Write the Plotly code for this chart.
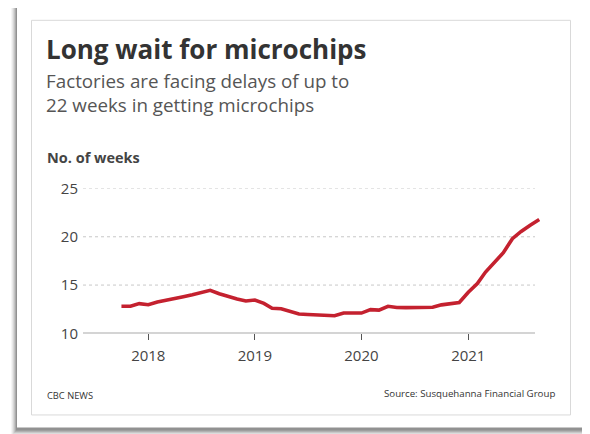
import plotly.graph_objects as go
import pandas as pd

# ---- data ----
start_month = "2017-10-01"
weeks = [12.8, 12.8, 13.08, 12.97, 13.25, 13.4, 13.6, 13.8, 14.0, 14.25, 14.45, 14.1,
         13.8, 13.55, 13.35, 13.45, 13.1, 12.6, 12.55, 12.3, 12.0, 11.95, 11.92, 11.88,
         11.82, 12.1, 12.1, 12.1, 12.45, 12.4, 12.8, 12.68, 12.66, 12.68, 12.7, 12.7,
         12.95, 13.1, 13.2, 14.25, 15.15, 16.35, 17.35, 18.35, 19.8, 20.55, 21.2, 21.8]
dates = pd.date_range(start_month, periods=len(weeks), freq="MS")
y_ticks = [10, 15, 20, 25]
x_tick_years = ["2018", "2019", "2020", "2021"]
grid_values = [15, 20, 25]

W, H = 584, 440
X_OFF = 8           # page offset horizontally
Y_OFF, Y_SC = 20.5, 0.945   # observed vertical placement of the figure in the photo
FONT = "Open Sans"
RED = "#c4212f"

def px(x):
    return (x - X_OFF) / W

def py(y):
    return 1 - ((y - Y_OFF) / Y_SC) / H

# x axis calibration: 2018-01-01 at 148.3px, 2021-01-01 at 468.3px (reference pixels)
t0 = pd.Timestamp("2018-01-01")
t1 = pd.Timestamp("2021-01-01")
per_px = (t1 - t0) / (468.3 - 148.3)
x_left_px, x_right_px = 83, 546
xr = [t0 - per_px * (148.3 - x_left_px), t1 + per_px * (x_right_px - 468.3)]

fig = go.Figure()
fig.add_trace(go.Scatter(x=dates, y=weeks, mode="lines",
                         line=dict(color=RED, width=3.6), hoverinfo="skip"))

shapes = []
# card shadow (layered translucent rects)
for i, op in enumerate([0.04, 0.05, 0.07, 0.09, 0.12, 0.15]):
    g = 6 - i
    shapes.append(dict(type="rect", xref="paper", yref="paper",
                       x0=px(17 - g), x1=px(583 + g), y0=py(426 + g + 1), y1=py(9 - g * 0.4),
                       line=dict(width=0), fillcolor=f"rgba(0,0,0,{op})", layer="below"))
shapes.append(dict(type="rect", xref="paper", yref="paper",
                   x0=px(17), x1=px(583), y0=py(425), y1=py(7),
                   line=dict(width=0), fillcolor="white", layer="below"))
shapes.append(dict(type="rect", xref="paper", yref="paper",
                   x0=px(31.5), x1=px(570.5), y0=py(412.5), y1=py(21.8),
                   line=dict(width=1, color="#d9d9d9"), fillcolor="rgba(0,0,0,0)", layer="below"))
# gridlines
for g in grid_values:
    shapes.append(dict(type="line", xref="paper", yref="y", x0=px(83), x1=px(535), y0=g, y1=g,
                       line=dict(color="#c8c8c8", width=1, dash="3px,3px"), layer="below"))
# baseline
shapes.append(dict(type="line", xref="paper", yref="y", x0=px(83), x1=px(535), y0=10, y1=10,
                   line=dict(color="#555555", width=1.2), layer="below"))

annotations = [
    dict(text="<b>Long wait for microchips</b>", x=px(44), y=py(50), xref="paper", yref="paper",
         xanchor="left", yanchor="middle", showarrow=False,
         font=dict(family=FONT, size=26, color="#333333")),
    dict(text="Factories are facing delays of up to<br>22 weeks in getting microchips",
         x=px(44), y=py(94), xref="paper", yref="paper", xanchor="left", yanchor="middle",
         align="left", showarrow=False, font=dict(family=FONT, size=18.8, color="#555555")),
    dict(text="<b>No. of weeks</b>", x=px(45), y=py(158), xref="paper", yref="paper",
         xanchor="left", yanchor="middle", showarrow=False,
         font=dict(family=FONT, size=14.5, color="#444444")),
    dict(text="CBC NEWS", x=px(45), y=py(393), xref="paper", yref="paper",
         xanchor="left", yanchor="middle", showarrow=False,
         font=dict(family=FONT, size=9.3, color="#333333")),
    dict(text="Source: Susquehanna Financial Group", x=px(557), y=py(391), xref="paper", yref="paper",
         xanchor="right", yanchor="middle", showarrow=False,
         font=dict(family=FONT, size=9.7, color="#333333")),
]

fig.update_layout(
    width=W, height=H,
    margin=dict(l=0, r=0, t=0, b=0),
    paper_bgcolor="white", plot_bgcolor="rgba(0,0,0,0)",
    showlegend=False,
    shapes=shapes, annotations=annotations,
    xaxis=dict(type="date", domain=[px(x_left_px), px(x_right_px)], range=xr,
               tickvals=[pd.Timestamp(y + "-01-01") for y in x_tick_years], ticktext=x_tick_years,
               ticks="outside", ticklen=6, tickcolor="#555555", tickwidth=1,
               ticklabelstandoff=3,
               showgrid=False, showline=False, zeroline=False,
               tickfont=dict(family=FONT, size=15, color="#444444", weight=500)),
    yaxis=dict(domain=[py(331.7), py(188.3)], range=[10, 25], tickvals=y_ticks,
               showgrid=False, showline=False, zeroline=False, ticks="",
               ticklabelstandoff=4,
               tickfont=dict(family=FONT, size=15, color="#444444", weight=500)),
)

fig.write_html("out.html")
